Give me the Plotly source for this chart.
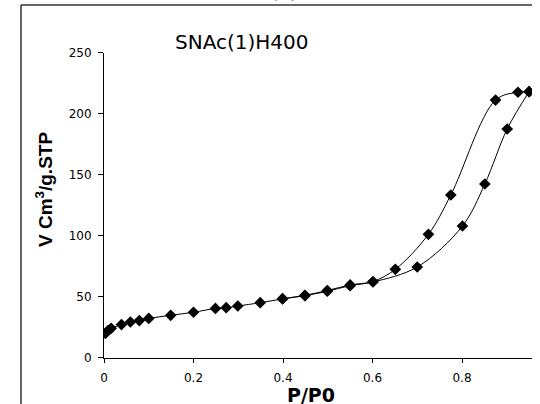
import plotly.graph_objects as go

# Adsorption branch (lower)
ads_p = [0.003, 0.009, 0.016, 0.039, 0.059, 0.079, 0.10, 0.149, 0.20, 0.249, 0.273,
         0.299, 0.349, 0.399, 0.449, 0.499, 0.55, 0.601, 0.70, 0.801, 0.851, 0.901, 0.95]
ads_v = [19.8, 22.0, 23.9, 27.0, 29.1, 30.3, 32.0, 34.6, 37.1, 40.2, 40.8,
         42.2, 44.9, 48.0, 50.7, 54.3, 58.9, 61.9, 74.2, 107.8, 142.2, 187.3, 217.9]

# Desorption branch (upper)
des_p = [0.95, 0.925, 0.875, 0.775, 0.725, 0.651, 0.601, 0.55, 0.499, 0.449, 0.399]
des_v = [217.9, 217.4, 211.0, 133.2, 101.0, 72.3, 62.3, 59.5, 54.9, 51.0, 48.2]

x_ticks = [0, 0.2, 0.4, 0.6, 0.8]
x_tick_text = ["0", "0.2", "0.4", "0.6", "0.8"]
y_ticks = [0, 50, 100, 150, 200, 250]

chart_title = "SNAc(1)H400"
x_title = "P/P0"
y_title = "V Cm<sup>3</sup>/g.STP"
panel_label = "(a)"

W, H = 540, 404
PL, PR, PT, PB = 96, 540, 52.5, 357.5   # plot area in pixels


def X(p):
    return p / W


def Y(p):
    return 1 - p / H


fig = go.Figure()
marker = dict(symbol="diamond", size=9, color="black")
line = dict(color="black", width=1, shape="spline", smoothing=1.0)
fig.add_trace(go.Scatter(x=ads_p, y=ads_v, mode="lines+markers",
                         marker=marker, line=line, showlegend=False))
fig.add_trace(go.Scatter(x=des_p, y=des_v, mode="lines+markers",
                         marker=marker, line=line, showlegend=False))

tick_font = dict(family="DejaVu Sans", size=12, color="black")

fig.update_layout(
    xaxis=dict(domain=[X(PL), X(PR)], range=[0, (PR - PL) / 447.5],
               tickvals=x_ticks, ticktext=x_tick_text,
               showgrid=False, zeroline=False, showline=True, linecolor="black",
               linewidth=1, ticks="outside", ticklen=4, tickcolor="black",
               tickfont=tick_font, ticklabelstandoff=5, automargin=False),
    yaxis=dict(domain=[Y(PB), Y(PT)], range=[0, 250], tickvals=y_ticks,
               showgrid=False, zeroline=False,
               showline=True, linecolor="black", linewidth=1, ticks="outside",
               ticklen=5, tickcolor="black", tickfont=tick_font,
               ticklabelstandoff=4, automargin=False),
)

annotations = [
    dict(text=chart_title, x=X(234), y=Y(42), xref="paper", yref="paper",
         showarrow=False, xanchor="center", yanchor="middle",
         font=dict(family="DejaVu Sans", size=20, color="black")),
    dict(text="<b>" + x_title + "</b>", x=X(303), y=Y(395), xref="paper", yref="paper",
         showarrow=False, xanchor="center", yanchor="middle",
         font=dict(family="DejaVu Sans", size=19, color="black")),
    dict(text="<b>" + y_title + "</b>", x=X(36), y=Y(190), xref="paper", yref="paper",
         showarrow=False, xanchor="center", yanchor="middle", textangle=-90,
         font=dict(family="Liberation Sans", size=19, color="black")),
    dict(text=panel_label, x=X(276), y=Y(4), xref="paper", yref="paper",
         showarrow=False, xanchor="center", yanchor="bottom",
         font=dict(family="DejaVu Sans", size=19, color="black")),
]

shapes = [
    dict(type="line", xref="paper", yref="paper", x0=X(13), x1=X(13),
         y0=0, y1=Y(5), line=dict(color="#333333", width=1.5), layer="above"),
    dict(type="line", xref="paper", yref="paper", x0=X(13), x1=1,
         y0=Y(5), y1=Y(5), line=dict(color="#333333", width=1.5), layer="above"),
]

fig.update_layout(width=W, height=H, margin=dict(l=0, r=0, t=0, b=0, pad=0),
                  paper_bgcolor="white", plot_bgcolor="white",
                  annotations=annotations, shapes=shapes)

fig.write_html("out.html", config={"displayModeBar": False},
               post_script="document.documentElement.style.overflow='hidden';window.scrollTo(8,8);")
